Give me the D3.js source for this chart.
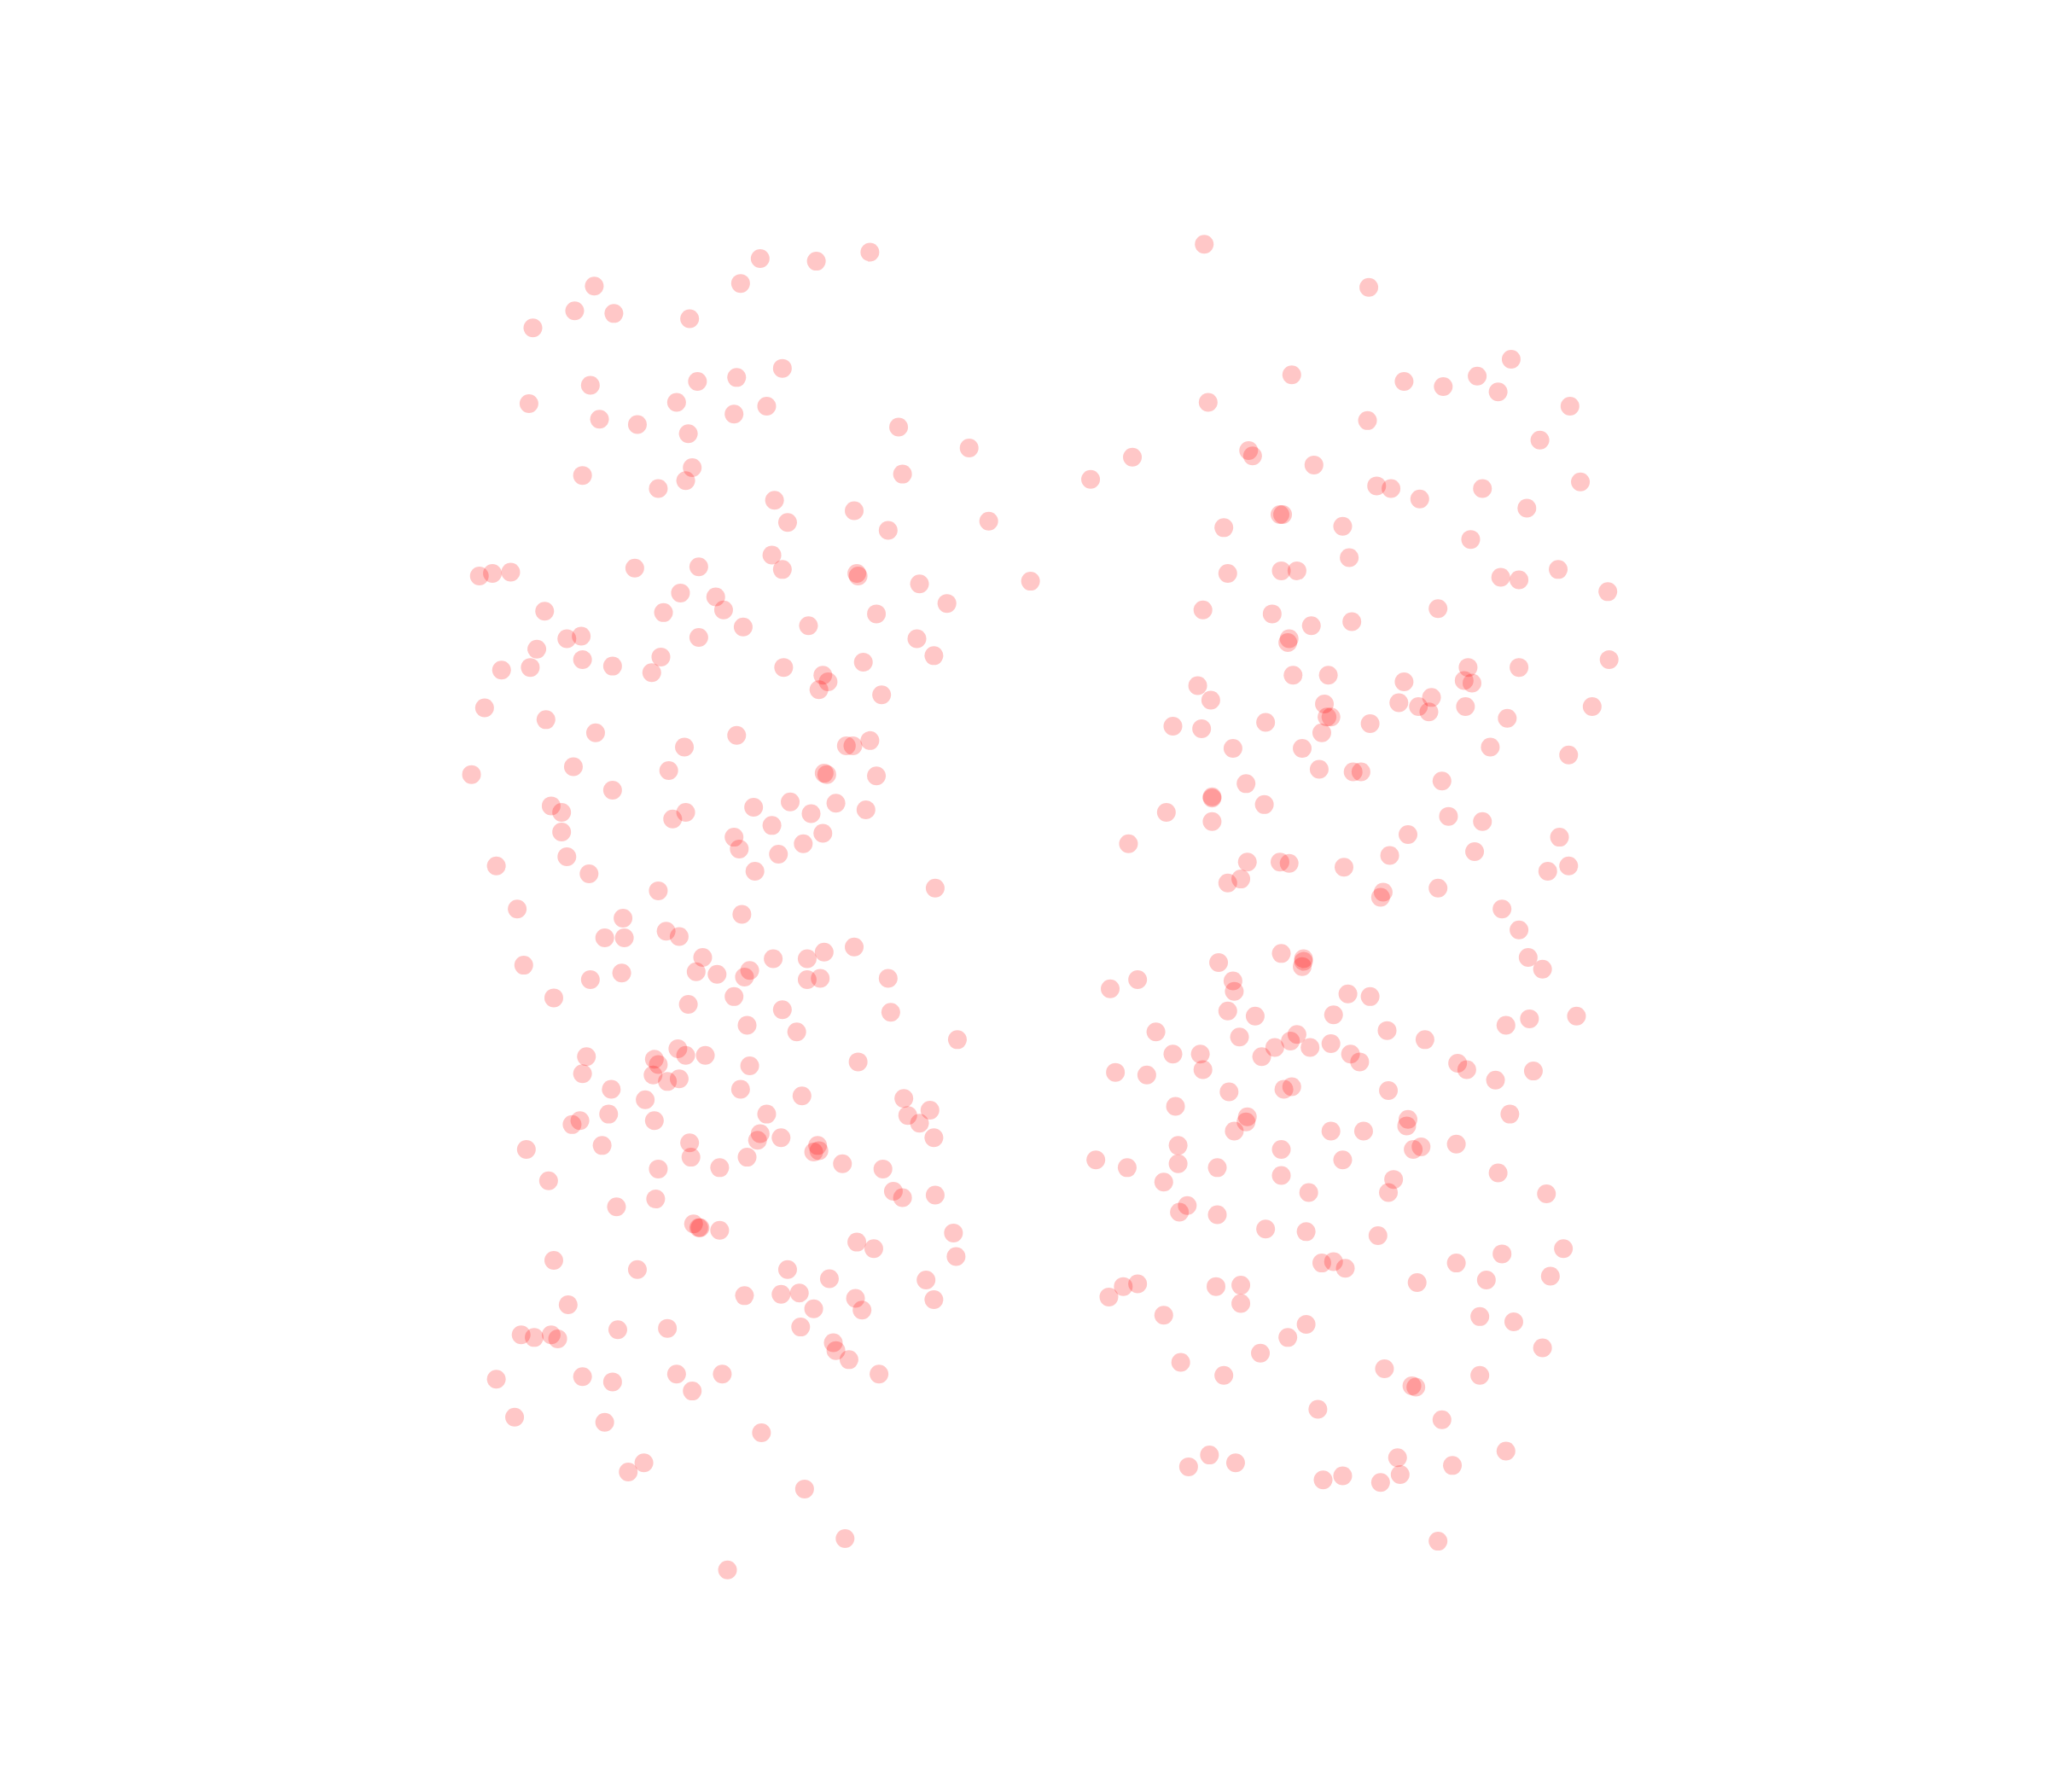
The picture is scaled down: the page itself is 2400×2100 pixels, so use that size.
<!DOCTYPE html>
<html>
<head>
<meta charset="utf-8">
<title>Scatter</title>
<script src="https://cdn.jsdelivr.net/npm/d3@7"></script>
<style>
html, body { margin: 0; padding: 0; background: #fff; }
svg { display: block; }
</style>
</head>
<body>
<div id="chart"></div>
<script>
// values, [x, y]
const leftPoints = [
[582,198],[625,200],[666,193],[567,217],[455,219],[440,238],[470,240],[528,244],[408,251],
[599,282],[564,289],[534,292],[452,295],[518,308],[405,309],[587,311],[562,317],[459,321],[488,325],[527,332],[688,327],[742,343],
[530,358],[446,364],[691,363],[525,368],[504,374],[593,383],[654,391],[603,400],[757,399],[680,406],
[591,425],[535,434],[486,435],[599,436],[656,439],[657,441],[367,441],[377,439],[391,438],[789,445],[704,447],
[521,454],[548,457],[725,462],[554,467],[508,469],[417,468],[671,470],[619,479],[569,480],[445,487],[434,489],[535,488],[702,489],
[411,497],[715,502],[506,503],[446,505],[661,507],[469,510],[406,511],[384,513],[600,511],[499,515],[630,517],[634,522],[627,528],[675,532],
[371,542],[418,551],[456,561],[564,563],[666,567],[648,571],[653,571],[524,572],[439,587],[512,590],[631,592],[633,593],[671,594],[361,593],
[469,605],[422,617],[430,622],[605,614],[577,618],[640,615],[663,620],[621,623],[525,622],[515,627],[591,632],[430,637],[630,638],[562,641],
[566,650],[615,646],[596,654],[434,656],[380,663],[451,669],[578,667],[504,682],[716,680],[396,696],
[568,700],[477,703],[463,718],[478,718],[510,713],[520,717],[654,725],[631,729],[538,733],[618,734],[592,734],[401,739],[574,743],[533,744],[549,746],[476,745],[570,748],[452,750],[618,750],[628,749],[680,749],
[424,764],[562,763],[527,769],[599,773],[682,775],[572,785],[610,790],[733,796],
[519,803],[540,808],[525,808],[449,809],[501,811],[504,815],[657,813],[574,816],[446,822],[500,823],[511,828],[520,826],[468,834],[567,834],[614,839],[692,841],[494,842],
[587,853],[712,850],[466,853],[695,854],[444,858],[501,858],[438,861],[704,860],[582,868],[598,871],[580,873],[715,871],[461,877],[528,875],[626,877],[403,880],[623,882],[627,881],
[572,886],[529,886],[645,891],[504,895],[551,894],[676,895],[420,904],[684,912],[716,915],[691,917],[502,918],[472,924],
[531,937],[535,940],[536,940],[551,942],[730,944],[656,951],[669,956],[732,962],[424,965],[488,972],[603,972],[635,979],[709,980],
[570,992],[598,991],[612,990],[655,994],[715,995],[435,999],[623,1002],[660,1003],[473,1018],[511,1017],[613,1016],[399,1022],[409,1024],[422,1022],[427,1025],[638,1028],[640,1034],[650,1041],
[380,1056],[446,1054],[469,1058],[518,1052],[553,1052],[673,1052],[530,1065],[394,1085],[463,1089],[583,1097],[493,1120],[481,1127],[616,1140],[647,1178],[557,1202]
]

const rightPoints = [
[922,187],[1048,220],[1157,275],[989,287],[1075,292],[1105,296],[1131,288],[1147,300],[925,308],[1202,311],[1047,322],[1179,337],
[867,350],[956,345],[959,349],[1006,356],[835,367],[1054,372],[1065,374],[1135,374],[1210,369],[1087,382],[1169,389],[980,394],[982,394],
[937,404],[1028,403],[1126,413],[1033,427],[981,437],[993,437],[940,439],[1193,436],[1149,442],[1163,444],[1231,453],
[921,467],[974,470],[1101,466],[1004,479],[1035,476],[987,489],[986,492],[990,517],[1017,517],[1075,522],[1124,511],[1163,511],[1232,505],[1121,521],[1127,523],
[917,525],[927,536],[1096,534],[1071,538],[1014,539],[1086,541],[1094,545],[1122,541],[1219,541],[1016,549],[1019,549],[1049,554],[969,553],[898,556],[920,558],[1154,550],
[1012,561],[944,573],[997,573],[1141,572],[1201,578],[1010,589],[1036,591],[1042,591],[1104,598],[954,600],[928,610],[928,611],[968,616],[893,622],[928,629],[1109,625],[1135,629],
[1078,639],[1194,641],[864,646],[1129,652],[1064,655],[955,660],[980,660],[987,661],[1029,664],[1185,667],[1201,663],[950,673],[940,676],[1059,683],[1057,687],[1101,680],[1150,696],
[1163,712],[981,730],[998,734],[998,736],[997,740],[933,737],[1170,733],[1181,742],[871,750],[850,757],[944,751],[945,759],
[1032,761],[1049,763],[940,774],[961,778],[1021,777],[1207,778],[1171,780],[1153,785],[1062,789],[885,790],[993,792],[988,797],[949,794],[1091,796],
[976,802],[1003,802],[1019,799],[898,807],[919,807],[966,809],[1034,807],[1041,813],[1116,814],[854,821],[878,823],[921,819],[1123,819],[1145,827],[1174,820],
[941,836],[983,834],[989,832],[1063,835],[900,847],[1156,853],[955,855],[1078,857],[954,859],[945,866],[1019,866],[1044,866],[1077,862],
[902,877],[981,880],[1088,878],[1082,880],[1115,876],[839,888],[1028,888],[902,891],[863,894],[932,894],[981,900],[1147,898],[891,905],[1067,903],
[1002,913],[1063,913],[1184,914],[909,923],[903,928],[932,930],[969,941],[1000,943],[1055,946],[1197,956],[1150,960],[1012,967],[1021,966],[1030,971],[1115,967],[1187,977],[1138,980],
[860,985],[871,983],[931,985],[950,984],[1085,982],[849,993],[950,998],[891,1007],[1133,1008],[1159,1012],[1000,1014],[986,1024],[1181,1032],[965,1036],[904,1043],
[937,1053],[1060,1048],[1133,1053],[1081,1061],[1084,1062],[1009,1079],[1104,1087],[1153,1111],[926,1114],[1070,1116],[910,1123],[946,1120],[1112,1122],[1072,1129],[1013,1133],[1028,1130],[1057,1135],[1101,1180]
]

const width = 2400
const height = 2100

const svg = d3.select("#chart")
    .append("svg")
    .attr("width", width)
    .attr("height", height)

const x = d3.scaleLinear()
    .domain([0, 1568])
    .range([0, width])

const y = d3.scaleLinear()
    .domain([0, 1372])
    .range([0, height])

svg.selectAll("circle")
    .data(leftPoints.concat(rightPoints))
    .enter()
    .append("circle")
    .attr("cx", d => x(d[0]))
    .attr("cy", d => y(d[1]))
    .attr("r", 11)
    .attr("fill", "#ff0000")
    .attr("fill-opacity", 0.22)
</script>
</body>
</html>
